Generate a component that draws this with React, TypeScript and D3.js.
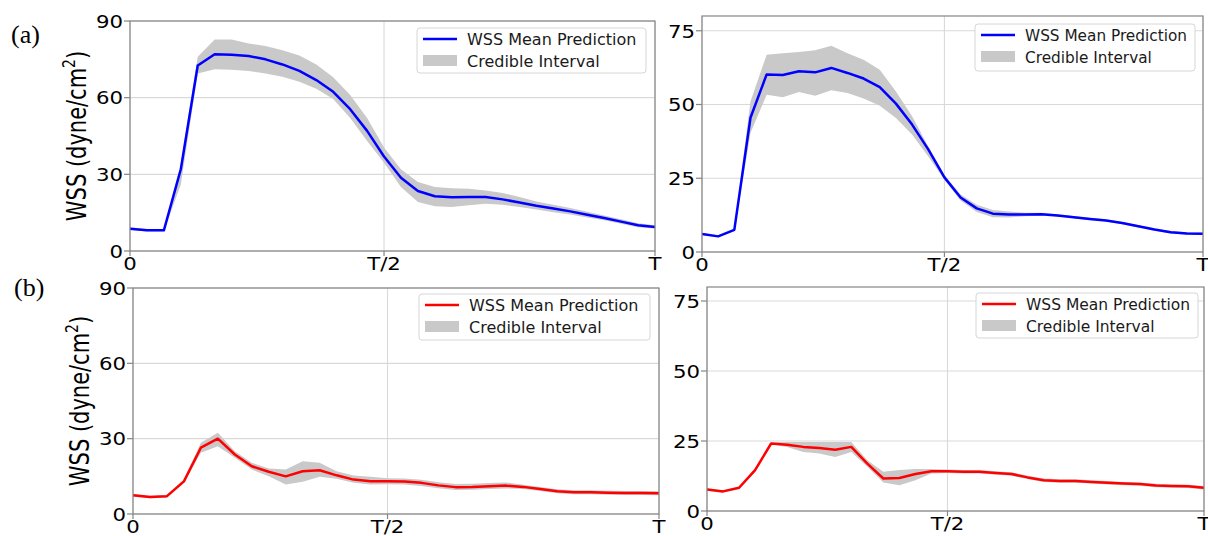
import React from "react";
import * as d3 from "d3";

// ---- data (32 samples over one cardiac cycle, index 0..31) ----
const xTickIdx = [0, 15, 31];
const xTickLabels = ["0", "T/2", "T"];

const aMean = [8.7, 8.1, 8.1, 32, 72.6, 77, 76.8, 76.3, 75, 73, 70.5, 66.9, 62.3, 55.5, 47, 37, 28.7, 23.5, 21.4, 21, 21.1, 21.1, 20.2, 19, 17.7, 16.6, 15.5, 14.2, 12.9, 11.5, 10.1, 9.4];
const aLower = [8.2, 7.6, 7.6, 26, 69.5, 71.1, 70.9, 70.4, 69.5, 68.2, 66.2, 63.5, 59.5, 52, 43, 34.5, 25, 19.2, 17.5, 17.2, 17.9, 18.5, 18.1, 17.2, 16.2, 15.2, 14.3, 13.1, 12, 10.7, 9.3, 8.8];
const aUpper = [9.3, 8.6, 8.6, 34, 76, 82.8, 82.8, 81.2, 80.2, 78.6, 76.5, 73, 68, 61, 52, 40.5, 32, 27, 25, 24.6, 24.4, 23.7, 22.7, 21.1, 19.4, 18.1, 16.8, 15.4, 13.9, 12.4, 10.9, 10.1];

const bMean = [6.1, 5.3, 7.5, 45.5, 60.2, 60, 61.3, 60.9, 62.4, 60.7, 58.8, 55.9, 50.3, 43.2, 34.8, 25.3, 18.5, 14.8, 13, 12.7, 12.7, 12.8, 12.4, 11.8, 11.2, 10.7, 9.8, 8.7, 7.6, 6.7, 6.3, 6.2];
const bLower = [5.8, 5, 7.1, 40.3, 53.3, 52.5, 54.2, 53, 54.8, 53.9, 52, 49.6, 45.4, 39.8, 32.4, 24.5, 17.5, 13.6, 11.8, 11.7, 12.1, 12.3, 12, 11.4, 10.8, 10.3, 9.4, 8.3, 7.2, 6.3, 5.9, 5.8];
const bUpper = [6.5, 5.7, 7.9, 51, 66.9, 67.4, 67.8, 68.4, 69.9, 67.4, 65.2, 61.8, 54.4, 46, 35.8, 26.1, 19.5, 16, 14.2, 13.7, 13.3, 13.3, 12.8, 12.2, 11.6, 11.1, 10.2, 9.1, 8, 7.1, 6.7, 6.6];

const cMean = [7.5, 6.8, 7.1, 13, 26.4, 30, 23.7, 19, 16.8, 15, 17, 17.4, 15.4, 13.7, 13, 13, 12.9, 12.4, 11.4, 10.7, 10.8, 11.1, 11.3, 10.8, 10, 9.1, 8.7, 8.7, 8.5, 8.4, 8.4, 8.3];
const cLower = [7, 6.3, 6.6, 12.3, 24.4, 27, 22.4, 17.7, 15, 11.7, 12.8, 14.8, 14, 12.4, 11.7, 11.8, 11.7, 11.2, 10.3, 9.6, 9.7, 10, 10.2, 10, 9.2, 8.3, 7.9, 7.9, 7.7, 7.6, 7.6, 7.5];
const cUpper = [8, 7.3, 7.6, 13.7, 28.4, 32.4, 25, 20.4, 18.1, 17.7, 21, 20.4, 17, 15.3, 14.8, 14.2, 14.1, 13.6, 12.6, 11.9, 12, 12.3, 12.5, 11.6, 10.8, 9.9, 9.5, 9.5, 9.3, 9.2, 9.2, 9.1];

const dMean = [7.7, 7, 8.3, 14.6, 24.1, 23.7, 22.9, 22.5, 21.9, 22.9, 16.9, 11.6, 11.8, 13.2, 14.2, 14.2, 14, 14, 13.6, 13.2, 12, 11, 10.7, 10.7, 10.4, 10.1, 9.8, 9.6, 9.1, 8.9, 8.8, 8.3];
const dLower = [7.3, 6.6, 7.9, 14, 23.8, 22.9, 21.1, 20.5, 19.3, 21.1, 15.8, 10.2, 9.2, 11, 13.4, 13.6, 13.4, 13.4, 13, 12.6, 11.4, 10.4, 10.1, 10.1, 9.8, 9.5, 9.2, 9, 8.5, 8.3, 8.2, 7.7];
const dUpper = [8.1, 7.4, 8.7, 15.2, 24.5, 24.6, 24.6, 24.6, 24.6, 24.6, 18.1, 14, 14.6, 15, 15, 14.8, 14.6, 14.6, 14.2, 13.8, 12.6, 11.6, 11.3, 11.3, 11, 10.7, 10.4, 10.2, 9.7, 9.5, 9.4, 8.9];

const yTicksLeft = [0, 30, 60, 90];
const yTicksRight = [0, 25, 50, 75];

const legendLabels = ["WSS Mean Prediction", "Credible Interval"];
const yLabelMain = "WSS (dyne/cm";
const yLabelSup = "2";
const yLabelEnd = ")";

type PanelProps = {
  x0: number; x1: number; y0: number; y1: number;
  yMax: number; yTicks: number[];
  mean: number[]; lower: number[]; upper: number[];
  color: string; showYLabel: boolean;
  legend: { x: number; y: number; w: number; h: number; fs: number };
};

const GRID = "#d9d9d9";
const SPINE = "#858585";
const BAND = "#c9c9c9";

function Panel(p: PanelProps) {
  const idx = d3.range(p.mean.length);
  const x = d3.scaleLinear().domain([0, p.mean.length - 1]).range([p.x0, p.x1]);
  const y = d3.scaleLinear().domain([0, p.yMax]).range([p.y1, p.y0]);
  const line = d3.line<number>().x((i) => x(i)).y((i) => y(p.mean[i]));
  const area = d3.area<number>().x((i) => x(i)).y0((i) => y(p.lower[i])).y1((i) => y(p.upper[i]));
  const L = p.legend;
  return (
    <g>
      {/* grid */}
      {p.yTicks.map((t) => (
        <line key={"gy" + t} x1={p.x0} x2={p.x1} y1={y(t)} y2={y(t)} stroke={GRID} strokeWidth={1.1} />
      ))}
      {xTickIdx.map((t) => (
        <line key={"gx" + t} x1={x(t)} x2={x(t)} y1={p.y0} y2={p.y1} stroke={GRID} strokeWidth={1.1} />
      ))}
      <path d={area(idx) || ""} fill={BAND} />
      <path d={line(idx) || ""} fill="none" stroke={p.color} strokeWidth={2.5} strokeLinejoin="round" />
      {/* spines */}
      <rect x={p.x0} y={p.y0} width={p.x1 - p.x0} height={p.y1 - p.y0} fill="none" stroke={SPINE} strokeWidth={1.2} />
      {/* y ticks */}
      {p.yTicks.map((t) => (
        <g key={"ty" + t}>
          <line x1={p.x0 - 6} x2={p.x0} y1={y(t)} y2={y(t)} stroke={SPINE} strokeWidth={1.2} />
          <text transform={`translate(${p.x0 - 7},${y(t) + 6.8}) scale(1.15,1)`} textAnchor="end" fontSize={18.5} fontFamily="DejaVu Sans" fill="#000">
            {String(t)}
          </text>
        </g>
      ))}
      {/* x ticks */}
      {xTickIdx.map((t, k) => (
        <g key={"tx" + t}>
          <line x1={x(t)} x2={x(t)} y1={p.y1} y2={p.y1 + 5} stroke={SPINE} strokeWidth={1.2} />
          <text transform={`translate(${x(t)},${p.y1 + 19}) scale(1.15,1)`} textAnchor="middle" fontSize={18.5} fontFamily="DejaVu Sans" fill="#000">
            {xTickLabels[k]}
          </text>
        </g>
      ))}
      {p.showYLabel && (
        <text transform={`translate(${p.x0 - 44},${(p.y0 + p.y1) / 2}) scale(1.25,1) rotate(-90)`} textAnchor="middle" fontSize={21} fontFamily="DejaVu Sans" fill="#000">
          {yLabelMain}
          <tspan fontSize={14} dy={-9}>{yLabelSup}</tspan>
          <tspan dy={9}>{yLabelEnd}</tspan>
        </text>
      )}
      {/* legend */}
      <rect x={L.x} y={L.y} width={L.w} height={L.h} rx={3} fill="#fff" fillOpacity={0.85} stroke="#d6d6d6" strokeWidth={1} />
      <line x1={L.x + 6} x2={L.x + 40} y1={L.y + 11} y2={L.y + 11} stroke={p.color} strokeWidth={2.5} />
      <rect x={L.x + 6} y={L.y + 27} width={34} height={11} fill={BAND} />
      <text x={L.x + 50} y={L.y + 11 + L.fs * 0.36} fontSize={L.fs} fontFamily="DejaVu Sans" fill="#1a1a1a">{legendLabels[0]}</text>
      <text x={L.x + 50} y={L.y + 33 + L.fs * 0.36} fontSize={L.fs} fontFamily="DejaVu Sans" fill="#1a1a1a">{legendLabels[1]}</text>
    </g>
  );
}

export default function App() {
  return (
    <svg width={1208} height={536} style={{ position: "absolute", left: 0, top: 0, background: "#fff" }}>
      <rect x={0} y={0} width={1208} height={536} fill="#fff" />
      <Panel x0={130} x1={655} y0={21} y1={251} yMax={90} yTicks={yTicksLeft}
        mean={aMean} lower={aLower} upper={aUpper} color="#0000ff" showYLabel
        legend={{ x: 417, y: 28, w: 229, h: 45, fs: 16 }} />
      <Panel x0={702} x1={1203} y0={16} y1={252} yMax={80} yTicks={yTicksRight}
        mean={bMean} lower={bLower} upper={bUpper} color="#0000ff" showYLabel={false}
        legend={{ x: 975, y: 24, w: 220, h: 47, fs: 15.3 }} />
      <Panel x0={133} x1={659} y0={288} y1={514} yMax={90} yTicks={yTicksLeft}
        mean={cMean} lower={cLower} upper={cUpper} color="#ff0000" showYLabel
        legend={{ x: 419, y: 294, w: 231, h: 46, fs: 16 }} />
      <Panel x0={707} x1={1204} y0={287} y1={511} yMax={80} yTicks={yTicksRight}
        mean={dMean} lower={dLower} upper={dUpper} color="#ff0000" showYLabel={false}
        legend={{ x: 976, y: 293, w: 222, h: 45, fs: 15.5 }} />
      <text x={11} y={43} fontSize={26} fontFamily="Liberation Serif" fill="#000">(a)</text>
      <text x={14} y={296} fontSize={26} fontFamily="Liberation Serif" fill="#000">(b)</text>
    </svg>
  );
}
